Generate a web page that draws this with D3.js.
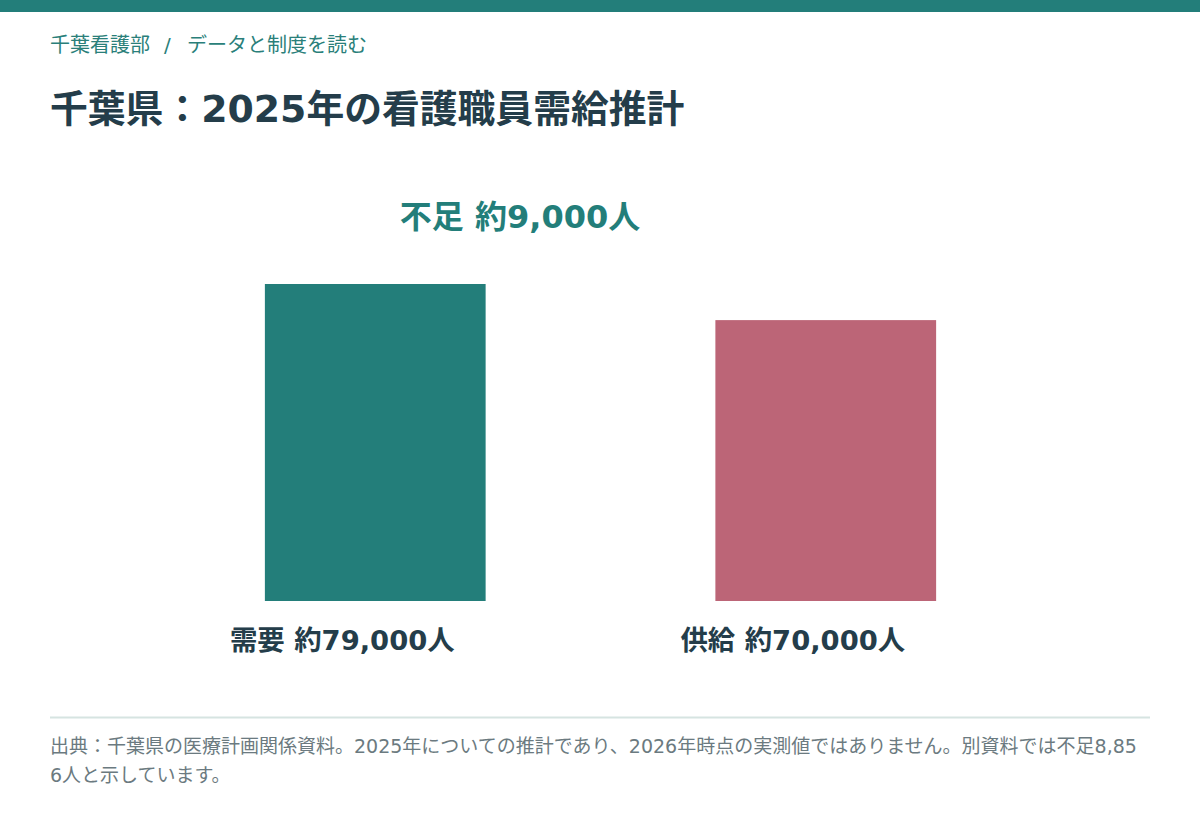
<!DOCTYPE html>
<html lang="ja">
<head>
  <meta charset="UTF-8">
  <title>千葉県：2025年の看護職員需給推計</title>
  <script src="https://d3js.org/d3.v7.min.js"></script>
  <style>
    body { margin: 0; background: #fff; }
    svg { display: block; font-family: "DejaVu Sans", "Noto Sans CJK JP", sans-serif; }
  </style>
</head>
<body>
  <script>
    var categories = ["需要", "供給"];
    var values = [79000, 70000];
    var valueLabels = ["約79,000人", "約70,000人"];
    var barColors = ["#237e7a", "#bc6577"];
    var gapLabel = "不足 約9,000人";

    var width = 1200;
    var height = 820;

    var svg = d3.select("body")
                .append("svg")
                .attr("width", width)
                .attr("height", height);

    // top band
    svg.append("rect")
       .attr("x", 0).attr("y", 0)
       .attr("width", width).attr("height", 12)
       .style("fill", "#237e7a");

    // breadcrumb
    svg.append("text").attr("x", 50).attr("y", 52)
       .style("font-size", "20px").style("fill", "#2a7f7a")
       .text("千葉看護部");
    svg.append("text").attr("x", 164).attr("y", 52)
       .style("font-size", "20px").style("fill", "#2a7f7a")
       .text("/");
    svg.append("text").attr("x", 187).attr("y", 52)
       .style("font-size", "20px").style("fill", "#2a7f7a")
       .text("データと制度を読む");

    // title
    svg.append("text").attr("x", 50).attr("y", 122)
       .style("font-size", "37.8px").style("font-weight", "bold").style("fill", "#243d4a")
       .text("千葉県：2025年の看護職員需給推計");

    var x = d3.scaleBand()
              .domain(categories)
              .range([150, 1051])
              .paddingInner(0.51)
              .paddingOuter(0.255);

    var y = d3.scaleLinear()
              .domain([0, 79000])
              .range([601, 284]);

    svg.selectAll(".bar")
       .data(categories)
       .enter()
       .append("rect")
       .attr("class", "bar")
       .attr("x", d => x(d))
       .attr("y", (d, i) => y(values[i]))
       .attr("width", x.bandwidth())
       .attr("height", (d, i) => y(0) - y(values[i]))
       .style("fill", (d, i) => barColors[i]);

    svg.selectAll(".label")
       .data(categories)
       .enter()
       .append("text")
       .attr("class", "label")
       .attr("x", d => x(d) - 35)
       .attr("y", 650)
       .style("font-size", "27.4px")
       .style("font-weight", "bold")
       .style("fill", "#243d4a")
       .text((d, i) => d + " " + valueLabels[i]);

    svg.append("text")
       .attr("x", 520).attr("y", 228)
       .attr("text-anchor", "middle")
       .style("font-size", "32px").style("font-weight", "bold").style("fill", "#237e7a")
       .text(gapLabel);

    // footer
    svg.append("line")
       .attr("x1", 50).attr("x2", 1150)
       .attr("y1", 717.5).attr("y2", 717.5)
       .style("stroke", "#d6e4e1").style("stroke-width", 2);

    var note = svg.append("text")
                  .style("font-size", "19px").style("fill", "#6b7a80");
    note.append("tspan").attr("x", 50).attr("y", 753)
        .text("出典：千葉県の医療計画関係資料。2025年についての推計であり、2026年時点の実測値ではありません。別資料では不足8,85");
    note.append("tspan").attr("x", 50).attr("y", 782)
        .text("6人と示しています。");
  </script>
</body>
</html>
